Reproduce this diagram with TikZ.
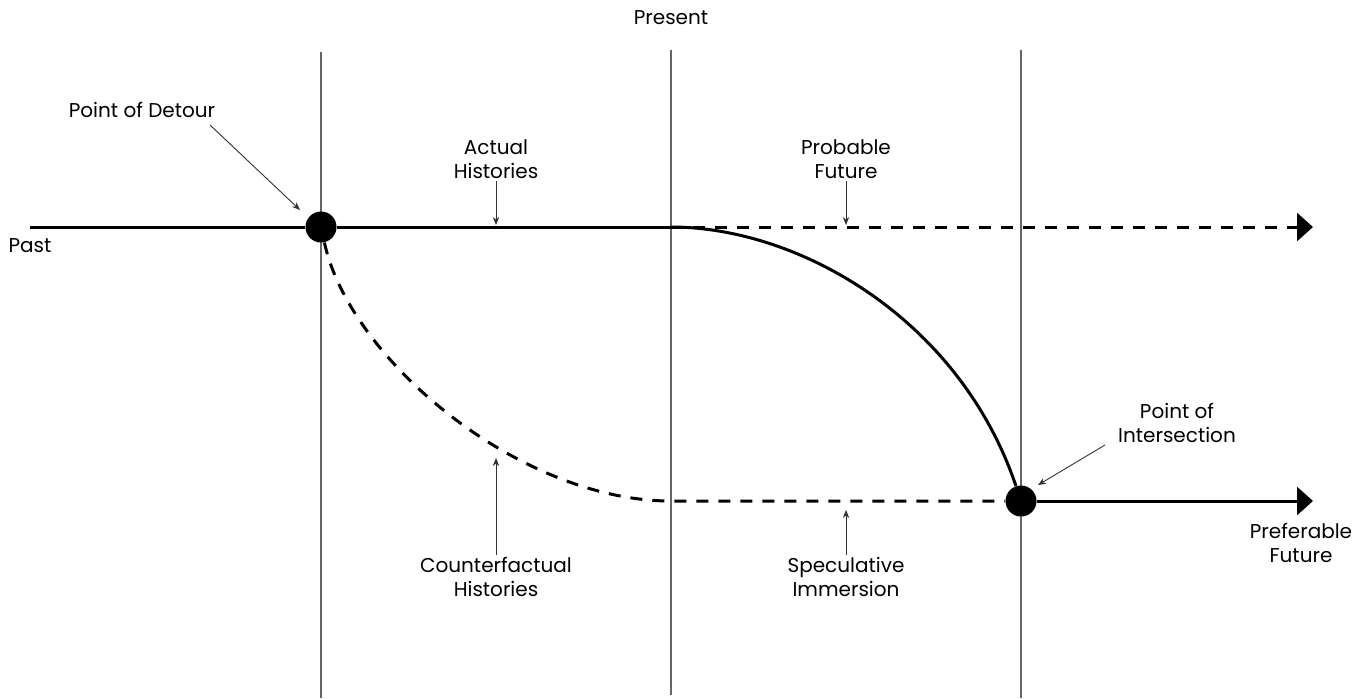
\documentclass[tikz,border=0pt]{standalone}
\usepackage{fontspec}
\setmainfont{Poppins}
\usetikzlibrary{arrows.meta}

\tikzset{
  lbl/.style={align=center,font=\fontsize{10}{12}\selectfont,inner sep=1pt},
  era/.style={line width=0.7pt,draw=black!60},
  track/.style={line width=1.5pt},
  guess/.style={line width=1.5pt,dash pattern=on 6pt off 5pt},
  pointer/.style={line width=0.45pt,draw=black!80,-{Stealth[length=4pt,width=3.2pt]}},
  dot/.style={circle,fill=black,minimum size=15.5pt,inner sep=0pt},
  bigtip/.style={-{Triangle[length=8pt,width=14pt]}}
}

\begin{document}
\begin{tikzpicture}[x=0.5pt,y=-0.5pt]
\useasboundingbox (0,0) rectangle (1366,698);
\draw[era] (321,52) -- (321,698);
\draw[era] (671,50) -- (671,695);
\draw[era] (1021,50) -- (1021,698);
\node[dot] (detour) at (321,227) {};
\node[dot] (intersect) at (1021,501) {};
\coordinate (pastend) at (30,227);
\coordinate (nowpt) at (671,227);
\coordinate (altpt) at (671,501);
\coordinate (probend) at (1313,227);
\coordinate (prefend) at (1313,501);
\draw[track] (pastend) -- (detour) -- (nowpt);
\draw[guess,bigtip] (nowpt) -- (probend);
\draw[track] (nowpt) .. controls (800,227) and (960,320) .. (intersect);
\draw[guess] (detour) .. controls (350,360) and (520,501) .. (altpt) -- (intersect);
\draw[track,bigtip] (intersect) -- (prefend);
\node[lbl] (present) at (671,18) {Present};
\node[lbl] (past) at (30,246) {Past};
\node[lbl] (detourlbl) at (142,110) {Point of Detour};
\node[lbl] (actual) at (496,159) {Actual\\Histories};
\node[lbl] (probable) at (846,159) {Probable\\Future};
\node[lbl] (intlbl) at (1177,423) {Point of\\Intersection};
\node[lbl] (preferable) at (1301,543) {Preferable\\Future};
\node[lbl] (counter) at (496,577) {Counterfactual\\Histories};
\node[lbl] (specul) at (846,577) {Speculative\\Immersion};
\coordinate (detourtip) at (300,210);
\coordinate (actualtip) at (496,225);
\coordinate (probtip) at (846,225);
\coordinate (inttip) at (1038,485);
\coordinate (countertip) at (496,458);
\coordinate (speculatip) at (846,510);
\draw[pointer] (210,125) coordinate (detourfrom) -- (detourtip);
\draw[pointer] (actual) -- (actualtip);
\draw[pointer] (probable) -- (probtip);
\draw[pointer] (1105,445) coordinate (intfrom) -- (inttip);
\draw[pointer] (counter) -- (countertip);
\draw[pointer] (specul) -- (speculatip);
\end{tikzpicture}
\end{document}
